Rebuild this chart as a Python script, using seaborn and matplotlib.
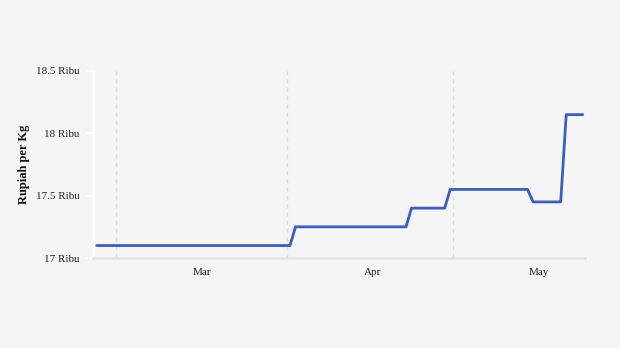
import matplotlib
matplotlib.use("Agg")
import matplotlib.pyplot as plt
import matplotlib.dates as mdates
import matplotlib.ticker as mticker
import pandas as pd
import seaborn as sns

# ---- data (daily price, thousand rupiah per kg) ----
start_date = "2023-02-25 12:00"
prices = [
    # Feb 25 - Apr 1
    17.1, 17.1, 17.1, 17.1, 17.1, 17.1, 17.1, 17.1, 17.1, 17.1,
    17.1, 17.1, 17.1, 17.1, 17.1, 17.1, 17.1, 17.1, 17.1, 17.1,
    17.1, 17.1, 17.1, 17.1, 17.1, 17.1, 17.1, 17.1, 17.1, 17.1,
    17.1, 17.1, 17.1, 17.1, 17.1, 17.1,
    # Apr 2 - Apr 22
    17.25, 17.25, 17.25, 17.25, 17.25, 17.25, 17.25, 17.25, 17.25, 17.25,
    17.25, 17.25, 17.25, 17.25, 17.25, 17.25, 17.25, 17.25, 17.25, 17.25,
    17.25,
    # Apr 23 - Apr 29
    17.4, 17.4, 17.4, 17.4, 17.4, 17.4, 17.4,
    # Apr 30 - May 14
    17.55, 17.55, 17.55, 17.55, 17.55, 17.55, 17.55, 17.55, 17.55, 17.55,
    17.55, 17.55, 17.55, 17.55, 17.55,
    # May 15 - May 20
    17.45, 17.45, 17.45, 17.45, 17.45, 17.45,
    # May 21 - May 24
    18.15, 18.15, 18.15, 18.15,
]
dates = pd.date_range(start_date, periods=len(prices), freq="D")
y_ticks = [17, 17.5, 18, 18.5]
y_tick_labels = ["17 Ribu", "17.5 Ribu", "18 Ribu", "18.5 Ribu"]
month_labels = ["Mar", "Apr", "May"]
month_label_dates = ["2023-03-16 12:00", "2023-04-16 12:00", "2023-05-16 12:00"]
y_label = "Rupiah per Kg"

df = pd.DataFrame({"date": dates, "price": prices})

sns.set_style("white")
plt.rcParams["font.family"] = ["Liberation Serif", "DejaVu Serif"]

bg = "#f5f5f5"
fig = plt.figure(figsize=(6.2, 3.48), dpi=100, facecolor=bg)
ax = fig.add_axes([93 / 620, 1 - 258 / 348, (585 - 93) / 620, (258 - 71) / 348])
ax.set_facecolor(bg)

sns.lineplot(data=df, x="date", y="price", ax=ax, color="#3a5cc6",
             linewidth=2.0, zorder=3)

ax.set_ylim(17, 18.5)
ax.set_yticks(y_ticks)
ax.set_yticklabels(y_tick_labels)
ax.set_xlim(pd.Timestamp("2023-03-01") - pd.Timedelta(days=4.16),
            pd.Timestamp("2023-03-01") + pd.Timedelta(days=84.9))

ax.xaxis.set_major_locator(mdates.MonthLocator(bymonthday=1))
ax.xaxis.set_major_formatter(mticker.NullFormatter())
ax.xaxis.set_minor_locator(mticker.FixedLocator(
    [mdates.date2num(pd.Timestamp(d)) for d in month_label_dates]))
ax.xaxis.set_minor_formatter(mticker.FixedFormatter(month_labels))

ax.grid(False)
ax.xaxis.grid(True, which="major", color="#dcdcdc", linestyle=(0, (3, 3)), linewidth=1.0)

ax.tick_params(axis="x", which="major", length=4, width=1.0, color="#e4e4e4")
ax.tick_params(axis="x", which="minor", length=0, pad=7, labelsize=8, labelcolor="#222222")
ax.tick_params(axis="y", which="major", length=5, width=1.5, color="white",
               pad=4.5, labelsize=8, labelcolor="#222222", left=True)

for s in ["top", "right"]:
    ax.spines[s].set_visible(False)
ax.spines["left"].set_color("white")
ax.spines["left"].set_linewidth(2)
ax.spines["bottom"].set_color("#e4e4e4")
ax.spines["bottom"].set_linewidth(2)

ax.set_xlabel("")
ax.set_ylabel(y_label, fontsize=9, fontweight="bold", color="#111111", labelpad=4.5)

fig.savefig("out.png", dpi=100, facecolor=bg)
